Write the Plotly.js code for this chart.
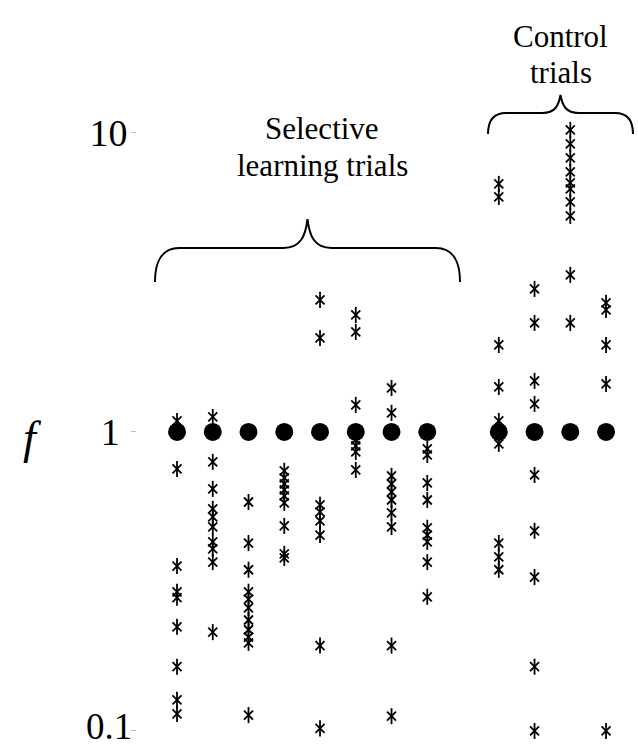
<!DOCTYPE html>
<html>
<head>
<meta charset="utf-8">
<script src="https://cdn.plot.ly/plotly-3.0.1.min.js"></script>
<style>
html,body{margin:0;padding:0;background:#fff;}
#chart{width:638px;height:749px;}
</style>
</head>
<body>
<div id="chart"></div>
<script>
// Trial column positions (selective: 1-8, control: 10-13)
var trialX = [1, 2, 3, 4, 5, 6, 7, 8, 10, 11, 12, 13];

// f values per trial
var trial1  = [1.088, 0.752, 0.356, 0.292, 0.279, 0.223, 0.164, 0.127, 0.114];
var trial2  = [1.122, 0.794, 0.645, 0.553, 0.520, 0.481, 0.429, 0.406, 0.367, 0.214];
var trial3  = [0.583, 0.425, 0.346, 0.292, 0.276, 0.258, 0.235, 0.218, 0.206, 0.197, 0.113];
var trial4  = [0.741, 0.702, 0.670, 0.640, 0.611, 0.579, 0.485, 0.391, 0.379];
var trial5  = [2.764, 2.062, 0.570, 0.540, 0.504, 0.452, 0.193, 0.102];
var trial6  = [2.462, 2.160, 1.231, 0.940, 0.898, 0.857, 0.746];
var trial7  = [1.403, 1.158, 0.713, 0.670, 0.630, 0.592, 0.536, 0.481, 0.193, 0.112];
var trial8  = [0.877, 0.838, 0.675, 0.592, 0.478, 0.452, 0.429, 0.367, 0.281];
var trial10 = [6.751, 6.109, 1.954, 1.414, 1.088, 0.912, 0.425, 0.382, 0.346];
var trial11 = [3.008, 2.315, 1.481, 1.241, 0.718, 0.467, 0.327, 0.164, 0.100];
var trial12 = [10.23, 9.187, 8.250, 7.405, 6.804, 6.496, 5.876, 5.277, 3.351, 2.315];
var trial13 = [2.701, 2.559, 1.954, 1.447, 0.100];

// Reference value (filled dots) for every trial
var referenceF = [1, 1, 1, 1, 1, 1, 1, 1, 1, 1, 1, 1];

// y ticks; the lowest label is drawn as an annotation so it stays inside the page
var yTickVals = [0.1, 1, 10];
var yTickText = ['', '1\u2009', '10'];
var lowTickLabel = '0.1';

var selectiveLabel = ['Selective', 'learning trials'];
var controlLabel = ['Control', 'trials'];

var trials = [trial1, trial2, trial3, trial4, trial5, trial6, trial7, trial8,
              trial10, trial11, trial12, trial13];

var px = [], py = [];
trials.forEach(function (arr, i) {
  arr.forEach(function (v) { px.push(trialX[i]); py.push(v); });
});

var starX = {
  x: px, y: py, type: 'scatter', mode: 'markers', hoverinfo: 'skip',
  marker: {symbol: 'x-thin-open', size: 9, color: '#000', line: {color: '#000', width: 1.8}}
};
var starV = {
  x: px, y: py, type: 'scatter', mode: 'markers', hoverinfo: 'skip',
  marker: {symbol: 'line-ns-open', size: 11.5, color: '#000', line: {color: '#000', width: 1.8}}
};
var dots = {
  x: trialX, y: referenceF, type: 'scatter', mode: 'markers', hoverinfo: 'skip',
  marker: {symbol: 'circle', size: 18, color: '#000', line: {width: 0}}
};

// plot-area geometry in pixels (for decorations)
var L = 137, R = 8, T = 10, B = 4, W = 638, H = 749;
var pw = W - L - R, ph = H - T - B;
function X(p) { return ((p - L) / pw).toFixed(4); }
function Y(p) { return ((H - B - p) / ph).toFixed(4); }
function brace(x0, x1, yEnd, yBar, yTip, r) {
  var xm = (x0 + x1) / 2;
  var d = '';
  d += 'M' + X(x0) + ',' + Y(yEnd);
  d += ' C' + X(x0) + ',' + Y(yBar + (yEnd - yBar) * 0.4) + ' ' + X(x0 + r * 0.3) + ',' + Y(yBar) + ' ' + X(x0 + r) + ',' + Y(yBar);
  d += ' L' + X(xm - r) + ',' + Y(yBar);
  d += ' C' + X(xm - r * 0.3) + ',' + Y(yBar) + ' ' + X(xm - 2) + ',' + Y(yBar - (yBar - yTip) * 0.4) + ' ' + X(xm) + ',' + Y(yTip);
  d += ' C' + X(xm + 2) + ',' + Y(yBar - (yBar - yTip) * 0.4) + ' ' + X(xm + r * 0.3) + ',' + Y(yBar) + ' ' + X(xm + r) + ',' + Y(yBar);
  d += ' L' + X(x1 - r) + ',' + Y(yBar);
  d += ' C' + X(x1 - r * 0.3) + ',' + Y(yBar) + ' ' + X(x1) + ',' + Y(yBar + (yEnd - yBar) * 0.4) + ' ' + X(x1) + ',' + Y(yEnd);
  return d;
}

var serif = '"Liberation Serif", "Times New Roman", Times, serif';

var layout = {
  width: W, height: H,
  margin: {l: L, r: R, t: T, b: B, pad: 0},
  paper_bgcolor: '#fff', plot_bgcolor: '#fff',
  showlegend: false,
  xaxis: {range: [-0.119, 13.67], visible: false, showgrid: false, zeroline: false, fixedrange: true},
  yaxis: {
    type: 'log', range: [-1.047, 1.411],
    tickvals: yTickVals, ticktext: yTickText,
    ticks: 'outside', ticklen: 5, tickwidth: 1, tickcolor: '#bbb',
    ticklabelstandoff: -4,
    showgrid: false, zeroline: false, showline: false,
    tickfont: {family: serif, size: 38, color: '#000'},
    fixedrange: true
  },
  shapes: [
    {type: 'path', xref: 'paper', yref: 'paper', path: brace(155, 460, 282, 248, 219, 24), line: {color: '#000', width: 2}},
    {type: 'path', xref: 'paper', yref: 'paper', path: brace(488, 633, 134, 113, 95, 18), line: {color: '#000', width: 2}}
  ],
  annotations: [
    {xref: 'paper', yref: 'paper', x: X(134), y: Y(748.5), text: lowTickLabel, showarrow: false,
     xanchor: 'right', yanchor: 'bottom', font: {family: serif, size: 37, color: '#000'}},
    {xref: 'paper', yref: 'paper', x: X(33), y: Y(437), text: 'f', showarrow: false,
     xanchor: 'center', yanchor: 'middle', font: {family: serif, size: 46, color: '#000', style: 'italic'}},
    {xref: 'paper', yref: 'paper', x: X(322), y: Y(129), text: selectiveLabel[0], showarrow: false,
     xanchor: 'center', yanchor: 'middle', font: {family: serif, size: 31, color: '#000'}},
    {xref: 'paper', yref: 'paper', x: X(322), y: Y(166), text: selectiveLabel[1], showarrow: false,
     xanchor: 'center', yanchor: 'middle', font: {family: serif, size: 31, color: '#000'}},
    {xref: 'paper', yref: 'paper', x: X(561), y: Y(37), text: controlLabel[0], showarrow: false,
     xanchor: 'center', yanchor: 'middle', font: {family: serif, size: 31, color: '#000'}},
    {xref: 'paper', yref: 'paper', x: X(561), y: Y(72), text: controlLabel[1], showarrow: false,
     xanchor: 'center', yanchor: 'middle', font: {family: serif, size: 31, color: '#000'}}
  ]
};

Plotly.newPlot('chart', [starX, starV, dots], layout, {staticPlot: true, displayModeBar: false});
</script>
</body>
</html>
